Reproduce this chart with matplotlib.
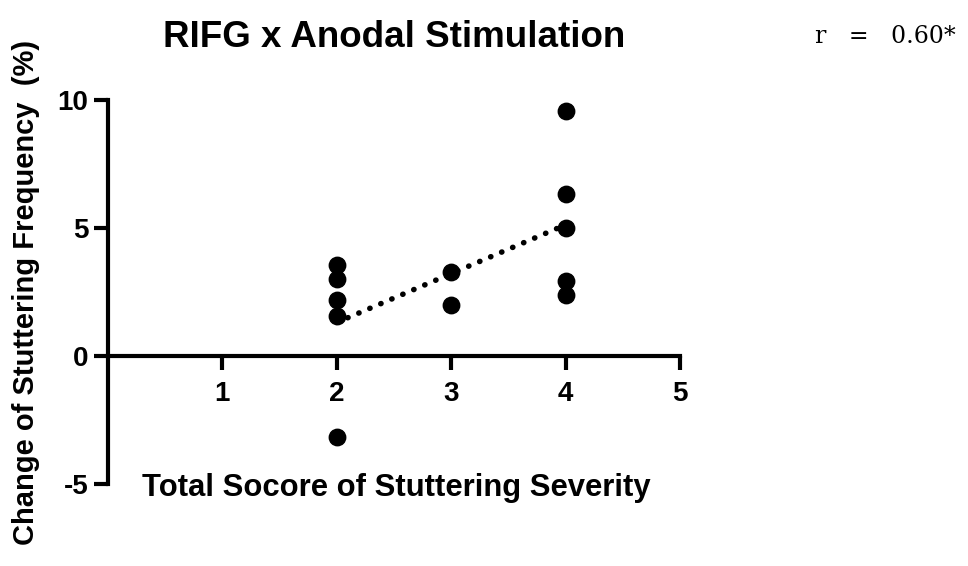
import numpy as np
import matplotlib.pyplot as plt

# stuttering severity score per participant and change in stuttering frequency (%)
severity = [2, 2, 2, 2, 2, 3, 3, 4, 4, 4, 4, 4]
change = [3.55, 3.0, 2.19, 1.56, -3.16, 3.28, 1.99, 9.57, 6.33, 5.0, 2.93, 2.38]
x_ticks = [1, 2, 3, 4, 5]
y_ticks = [-5, 0, 5, 10]

plt.rcParams['font.family'] = ['Liberation Sans', 'DejaVu Sans']
plt.rcParams['font.weight'] = 'bold'
plt.rcParams['axes.unicode_minus'] = False

fig = plt.figure(figsize=(9.68, 5.66), dpi=100)
ax = fig.add_axes([0.1116, 0.1449, 0.5909, 0.6784])

ax.scatter(severity, change, s=140, color='black', zorder=3, clip_on=False)

# least squares fit over the observed severity range
slope, intercept = np.polyfit(severity, change, 1)
fx = np.array([min(severity), max(severity)])
ax.plot(fx, slope * fx + intercept, color='black', lw=4,
        linestyle=(0, (0.05, 2.1)), dash_capstyle='round')

ax.set_xlim(0, 5)
ax.set_ylim(-5, 10)
ax.spines['top'].set_visible(False)
ax.spines['right'].set_visible(False)
ax.spines['bottom'].set_position(('data', 0))
for s in ['left', 'bottom']:
    ax.spines[s].set_linewidth(3)
ax.set_xticks(x_ticks)
ax.set_yticks(y_ticks)
ax.tick_params(width=3, length=10, labelsize=20, pad=4)
ax.tick_params(axis='x', pad=8)

ax.set_title('RIFG x Anodal Stimulation', fontsize=26.5, fontweight='bold', pad=38)
ax.set_ylabel('Change of Stuttering Frequency  (%)', fontsize=21, fontweight='bold')
ax.yaxis.set_label_coords(-0.119, 0.5)
ax.text(0.06, -0.01, 'Total Socore of Stuttering Severity', transform=ax.transAxes,
        fontsize=22.3, fontweight='bold', va='center', ha='left')

fig.text(0.842, 0.936, 'r   =   0.60*', family='DejaVu Serif', fontweight='normal',
         fontsize=17, va='center')

fig.savefig('out.png', dpi=100)
